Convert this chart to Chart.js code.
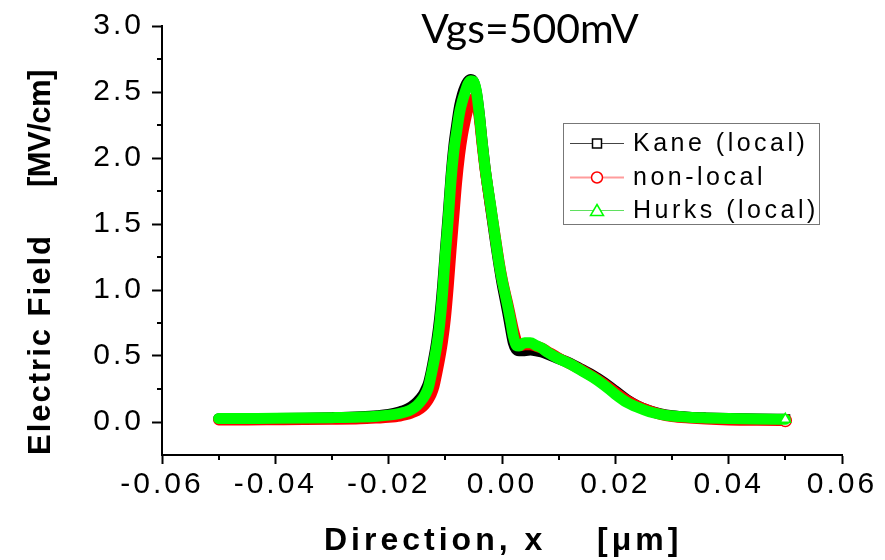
<!DOCTYPE html>
<html>
<head>
<meta charset="utf-8">
<script src="https://cdn.jsdelivr.net/npm/chart.js@4.4.1/dist/chart.umd.min.js"></script>
<style>
  html, body { margin: 0; padding: 0; background: #fff; }
  #wrap { width: 885px; height: 560px; }
</style>
</head>
<body>
<div id="wrap"><canvas id="fieldChart" width="885" height="560"></canvas></div>
<script>
// position along the device (um)
const xPos = [
  -0.050, -0.045, -0.040, -0.035, -0.030, -0.025, -0.022, -0.020, -0.018, -0.017,
  -0.016, -0.015, -0.014, -0.0135, -0.013, -0.0125, -0.012, -0.0115, -0.011, -0.0105,
  -0.010, -0.0095, -0.009, -0.0085, -0.008, -0.0075, -0.007, -0.0065, -0.006, -0.0055,
  -0.005, -0.0045, -0.004, -0.0035, -0.003, -0.0025, -0.002, -0.0015, -0.001, -0.0005,
  0.000, 0.0005, 0.001, 0.0015, 0.002, 0.0025, 0.003, 0.0035, 0.004, 0.005,
  0.006, 0.007, 0.008, 0.010, 0.012, 0.014, 0.016, 0.018, 0.020, 0.022,
  0.024, 0.026, 0.028, 0.030, 0.033, 0.036, 0.040, 0.045, 0.050
];

// electric field (MV/cm)
const kaneField = [
  0.025, 0.026, 0.027, 0.029, 0.033, 0.040, 0.048, 0.058, 0.078, 0.092,
  0.115, 0.15, 0.20, 0.24, 0.29, 0.38, 0.49, 0.62, 0.79, 1.02,
  1.30, 1.57, 1.86, 2.09, 2.25, 2.39, 2.48, 2.54, 2.58, 2.595,
  2.575, 2.49, 2.33, 2.12, 1.93, 1.77, 1.62, 1.47, 1.32, 1.18,
  1.05, 0.94, 0.83, 0.71, 0.60, 0.55, 0.54, 0.54, 0.54, 0.545,
  0.54, 0.53, 0.515, 0.48, 0.445, 0.40, 0.355, 0.30, 0.235, 0.17,
  0.12, 0.085, 0.062, 0.048, 0.037, 0.031, 0.026, 0.022, 0.020
];
const nonLocalField = [
  0.016, 0.016, 0.017, 0.018, 0.020, 0.024, 0.030, 0.035, 0.045, 0.055,
  0.068, 0.085, 0.115, 0.14, 0.17, 0.21, 0.27, 0.37, 0.48, 0.61,
  0.78, 1.02, 1.30, 1.56, 1.82, 2.02, 2.17, 2.28, 2.37, 2.42,
  2.45, 2.42, 2.30, 2.10, 1.92, 1.77, 1.63, 1.49, 1.35, 1.21,
  1.09, 0.99, 0.90, 0.80, 0.70, 0.62, 0.58, 0.58, 0.585, 0.585,
  0.575, 0.56, 0.535, 0.485, 0.44, 0.395, 0.345, 0.29, 0.225, 0.165,
  0.12, 0.085, 0.058, 0.042, 0.030, 0.022, 0.016, 0.013, 0.012
];
const hurksField = [
  0.026, 0.027, 0.028, 0.030, 0.033, 0.038, 0.044, 0.052, 0.066, 0.077,
  0.095, 0.125, 0.175, 0.21, 0.26, 0.355, 0.46, 0.58, 0.74, 0.97,
  1.27, 1.53, 1.83, 2.05, 2.20, 2.34, 2.43, 2.50, 2.56, 2.585,
  2.58, 2.50, 2.33, 2.12, 1.93, 1.78, 1.64, 1.49, 1.34, 1.20,
  1.08, 0.98, 0.88, 0.77, 0.65, 0.58, 0.575, 0.59, 0.60, 0.60,
  0.58, 0.56, 0.53, 0.48, 0.44, 0.39, 0.34, 0.28, 0.21, 0.15,
  0.11, 0.078, 0.058, 0.045, 0.036, 0.031, 0.026, 0.022, 0.020
];

const seriesNames = ['Kane (local)', 'non-local', 'Hurks (local)'];
const xTicks = [-0.06, -0.04, -0.02, 0, 0.02, 0.04, 0.06];
const xMinor = [-0.05, -0.03, -0.01, 0.01, 0.03, 0.05];
const yTicks = [0, 0.5, 1, 1.5, 2, 2.5, 3];
const yMinor = [0.25, 0.75, 1.25, 1.75, 2.25, 2.75];
const chartTitle = 'Vgs=500mV';
const xTitle = ['Direction, x', '[\u03bcm]'];
const yTitle = ['Electric Field', '[MV/cm]'];

const bandColors = ['#000000', '#ff0000', '#00ff00'];
const legendLines = ['#444444', '#ff9c9c', '#5fe05f'];
const markerStyles = ['rect', 'circle', 'triangle'];

function toPoints(ys) {
    return xPos.map((x, i) => ({ x: x, y: ys[i] }));
}

function lastOnly(ctx) {
    return ctx.dataIndex === xPos.length - 1 ? 6 : 0;
}

function drawMarker(ctx, style, x, y, color) {
    ctx.save();
    ctx.strokeStyle = color;
    ctx.fillStyle = '#fff';
    ctx.lineWidth = 1.5;
    ctx.beginPath();
    if (style === 'rect') {
        ctx.rect(x - 4.5, y - 4.5, 9, 9);
    } else if (style === 'circle') {
        ctx.arc(x, y, 5.5, 0, Math.PI * 2);
    } else {
        ctx.moveTo(x, y - 6);
        ctx.lineTo(x + 6.5, y + 5);
        ctx.lineTo(x - 6.5, y + 5);
        ctx.closePath();
    }
    ctx.fill();
    ctx.stroke();
    ctx.restore();
}

// letter spaced text like the original figure
const spacing = {
    id: 'spacing',
    beforeDraw(chart) {
        chart.ctx.letterSpacing = '3px';
    }
};

// minor ticks, titles, legend box
const decorations = {
    id: 'decorations',
    afterDraw(chart) {
        const { ctx, chartArea, scales } = chart;
        ctx.save();
        ctx.strokeStyle = '#000';
        ctx.lineWidth = 2;
        ctx.beginPath();
        xMinor.forEach(v => {
            const px = Math.round(scales.x.getPixelForValue(v));
            ctx.moveTo(px, chartArea.bottom);
            ctx.lineTo(px, chartArea.bottom + 5);
        });
        yMinor.forEach(v => {
            const py = Math.round(scales.y.getPixelForValue(v));
            ctx.moveTo(chartArea.left, py);
            ctx.lineTo(chartArea.left - 5, py);
        });
        ctx.stroke();

        // title
        ctx.fillStyle = '#000';
        ctx.letterSpacing = '0px';
        ctx.font = '41px Lato';
        ctx.textAlign = 'center';
        ctx.textBaseline = 'alphabetic';
        ctx.fillText(chartTitle, 530, 43);

        // x title
        ctx.font = 'bold 32px "Liberation Sans"';
        ctx.letterSpacing = '4px';
        ctx.textAlign = 'left';
        ctx.fillText(xTitle[0], 324, 550);
        ctx.fillText(xTitle[1], 597, 550);

        // y title
        ctx.save();
        ctx.translate(50, 455);
        ctx.rotate(-Math.PI / 2);
        ctx.font = 'bold 31px "Liberation Sans"';
        ctx.letterSpacing = '2px';
        ctx.textAlign = 'left';
        ctx.fillText(yTitle[0], 0, 0);
        ctx.letterSpacing = '-0.5px';
        ctx.textAlign = 'right';
        ctx.fillText(yTitle[1], 385, 0);
        ctx.restore();

        // legend
        ctx.letterSpacing = '3.5px';
        ctx.lineWidth = 1;
        ctx.strokeStyle = '#777';
        ctx.strokeRect(563.5, 123.5, 256, 101);
        ctx.font = '25px "Liberation Sans"';
        ctx.textAlign = 'left';
        ctx.textBaseline = 'middle';
        const rows = [143, 177, 210];
        seriesNames.forEach((name, i) => {
            const y = rows[i];
            ctx.strokeStyle = legendLines[i];
            ctx.lineWidth = i === 1 ? 2 : 1;
            ctx.beginPath();
            ctx.moveTo(570, y + 0.5);
            ctx.lineTo(624, y + 0.5);
            ctx.stroke();
            drawMarker(ctx, markerStyles[i], 597, y + 0.5, bandColors[i]);
            ctx.fillStyle = '#000';
            ctx.fillText(name, 633, y + 1);
        });
        ctx.restore();
    }
};

const series = [kaneField, nonLocalField, hurksField];
const datasets = series.map((ys, i) => ({
    label: seriesNames[i],
    data: toPoints(ys),
    borderColor: bandColors[i],
    borderWidth: 11,
    borderJoinStyle: 'round',
    borderCapStyle: 'round',
    cubicInterpolationMode: 'monotone',
    pointStyle: markerStyles[i],
    pointRadius: lastOnly,
    pointBorderColor: bandColors[i],
    pointBackgroundColor: '#fff',
    pointBorderWidth: 1.5,
    order: 2 - i
}));

const axisFont = { family: 'Liberation Sans', size: 30 };

new Chart(document.getElementById('fieldChart'), {
    type: 'line',
    data: { datasets: datasets },
    options: {
        responsive: false,
        devicePixelRatio: 1,
        animation: false,
        layout: { padding: { top: 25, right: 43, left: 0, bottom: 0 } },
        plugins: {
            legend: { display: false },
            tooltip: { enabled: false },
            title: { display: false }
        },
        scales: {
            x: {
                type: 'linear',
                min: -0.06,
                max: 0.06,
                afterBuildTicks: s => { s.ticks = xTicks.map(v => ({ value: v })); },
                afterFit: s => { s.height = 105; },
                ticks: {
                    callback: v => v.toFixed(2),
                    font: axisFont,
                    color: '#000',
                    padding: 3,
                    maxRotation: 0,
                    autoSkip: false
                },
                grid: { drawOnChartArea: false, tickLength: 9, tickWidth: 2, tickColor: '#000', color: '#000' },
                border: { color: '#000', width: 2 }
            },
            y: {
                min: -0.25,
                max: 3.0,
                afterBuildTicks: s => { s.ticks = yTicks.map(v => ({ value: v })); },
                afterFit: s => { s.width = 162; },
                ticks: {
                    callback: v => v.toFixed(1),
                    font: axisFont,
                    color: '#000',
                    padding: 8,
                    autoSkip: false
                },
                grid: { drawOnChartArea: false, tickLength: 10, tickWidth: 2, tickColor: '#000', color: '#000' },
                border: { color: '#000', width: 2 }
            }
        }
    },
    plugins: [spacing, decorations]
});
</script>
</body>
</html>
